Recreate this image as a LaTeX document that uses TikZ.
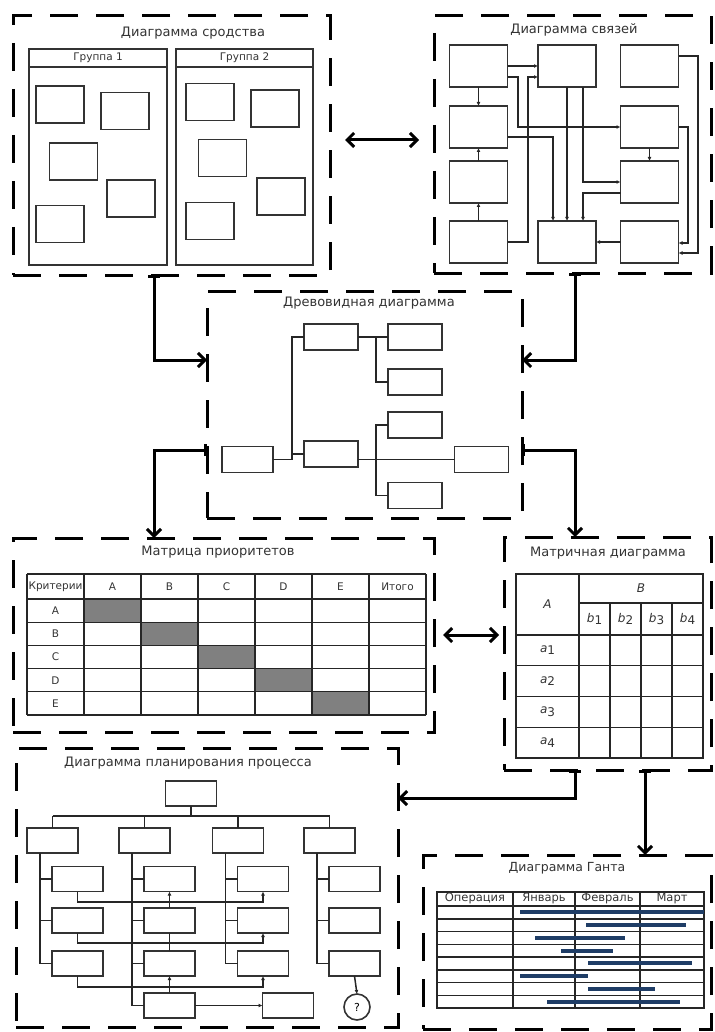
\documentclass[tikz,border=0pt]{standalone}
\usepackage{fontspec}
\setmainfont{DejaVu Sans}
\usetikzlibrary{arrows.meta}

\definecolor{ganttbar}{HTML}{1F3D66}

\tikzset{
  frame/.style={draw, line width=3pt, dash pattern=on 28pt off 18pt,
    inner sep=0pt, outer sep=0pt, anchor=north west},
  ttl/.style={font=\fontsize{13}{15}\selectfont, text=black!80},
  hdr/.style={font=\fontsize{10.5}{12}\selectfont, text=black!80},
  tab/.style={font=\fontsize{10.5}{12}\selectfont, text=black!80},
  mtx/.style={font=\fontsize{12}{14}\selectfont, text=black!80},
  blk/.style={draw=black!80, line width=1.6pt, inner sep=0pt, outer sep=0pt},
  grp/.style={draw=black!80, line width=1.6pt},
  sbox/.style={blk, minimum width=48pt, minimum height=37pt},
  rbox/.style={blk, minimum width=58pt, minimum height=42pt},
  tbox/.style={blk, minimum width=54pt, minimum height=26pt},
  pbox/.style={blk, minimum width=51pt, minimum height=25pt},
  qcirc/.style={blk, circle, minimum size=26pt, font=\fontsize{11}{12}\selectfont},
  ln/.style={line width=1.5pt, draw=black!85},
  ar/.style={ln, -{Latex[length=4pt, width=4pt]}},
  tg/.style={line width=1.2pt, draw=black!85},
  gl/.style={line width=1.5pt, draw=black!85},
  gbar/.style={line width=4pt, draw=ganttbar},
  big/.style={line width=3pt, -{Straight Barb[length=7pt, width=14pt]}},
  bigbar/.style={big, {Bar[width=12pt]}-{Straight Barb[length=7pt, width=14pt]}},
  bigdbl/.style={line width=3pt, {Straight Barb[length=7pt, width=14pt]}-{Straight Barb[length=7pt, width=14pt]}}
}

\begin{document}
\begin{tikzpicture}[x=1pt, y=-1pt]
  \useasboundingbox (0,0) rectangle (714,1032);

  % dashed frames
  \node[frame, minimum width=317pt, minimum height=259pt] (affin) at (13,16) {};
  \node[frame, minimum width=277pt, minimum height=257pt] (relat) at (434,16) {};
  \node[frame, minimum width=315pt, minimum height=227pt] (tree) at (207,291) {};
  \node[frame, minimum width=421pt, minimum height=194pt] (prio) at (13,538) {};
  \node[frame, minimum width=207pt, minimum height=233pt] (matr) at (504,537) {};
  \node[frame, minimum width=382pt, minimum height=279pt] (plan) at (16,748) {};
  \node[frame, minimum width=288pt, minimum height=174pt] (gantt) at (423,855) {};

  \node[ttl] (affinT) at (193,33) {Диаграмма сродства};
  \node[ttl] (relatT) at (574,30) {Диаграмма связей};
  \node[ttl] (treeT) at (369,303) {Древовидная диаграмма};
  \node[ttl] (prioT) at (218,552) {Матрица приоритетов};
  \node[ttl] (matrT) at (608,553) {Матричная диаграмма};
  \node[ttl] (planT) at (188,763) {Диаграмма планирования процесса};
  \node[ttl, font=\fontsize{12.5}{14}\selectfont] (ganttT) at (567,868) {Диаграмма Ганта};

  % affinity diagram
  \node[blk, minimum width=138pt, minimum height=216pt] (grp1) at (98,157) {};
  \node[blk, minimum width=137pt, minimum height=216pt] (grp2) at (244.5,157) {};
  \draw[grp] (grp1.west |- 0,67) -- (grp1.east |- 0,67);
  \draw[grp] (grp2.west |- 0,67) -- (grp2.east |- 0,67);
  \node[hdr] (grp1T) at (98,58) {Группа 1};
  \node[hdr] (grp2T) at (244.5,58) {Группа 2};
  \foreach \x/\y [count=\i] in {60/104.5,125/111,73.5/161.5,131/198.5,60/224,
      210/102,275/108.5,222.5/158,281/196.5,210/221}
    \node[sbox] (s\i) at (\x,\y) {};

  % relations diagram
  \node[rbox] (r11) at (478.5,66) {};
  \node[rbox] (r12) at (478.5,127) {};
  \node[rbox] (r13) at (478.5,182) {};
  \node[rbox] (r14) at (478.5,242) {};
  \node[rbox] (r21) at (567,66) {};
  \node[rbox] (r24) at (567,242) {};
  \node[rbox] (r31) at (649.5,66) {};
  \node[rbox] (r32) at (649.5,127) {};
  \node[rbox] (r33) at (649.5,182) {};
  \node[rbox] (r34) at (649.5,242) {};
  \draw[ar] (r11) -- (r12);
  \draw[ar] (r13) -- (r12);
  \draw[ar] (r14) -- (r13);
  \draw[ar] (r11) -- (r21);
  \draw[ar] (r11.east |- 0,77) -| (518,127) -- (r32);
  \draw[ar] (r14) -| (528,77) -- (r21.west |- 0,77);
  \draw[ar] (r12.east |- 0,137) -| (r24.north -| 553,0);
  \draw[ar] (r21) -- (r24);
  \draw[ar] (r21.south -| 583,0) |- (r33);
  \draw[ar] (r33.west |- 0,193) -| (r24.north -| 583,0);
  \draw[ar] (r32) -- (r33);
  \draw[ar] (r34) -- (r24);
  \draw[ar] (r32) -| (688,243) -- (r34.east |- 0,243);
  \draw[ar] (r31.east |- 0,56) -| (698,253) -- (r34.east |- 0,253);

  % tree diagram
  \node[tbox, minimum width=51pt] (t0) at (247.5,459.5) {};
  \node[tbox] (m1) at (331,337) {};
  \node[tbox] (m2) at (331,454) {};
  \node[tbox] (l1) at (415,337) {};
  \node[tbox] (l2) at (415,382) {};
  \node[tbox] (l3) at (415,425) {};
  \node[tbox] (l4) at (481.5,459.5) {};
  \node[tbox] (l5) at (415,495.5) {};
  \draw[ln] (t0.east) -| ([xshift=-12pt]m1.west) -- (m1.west);
  \draw[ln] (m2.west) -- ++(-12,0);
  \draw[ln] (m1.east) -- (l1.west);
  \draw[ln] (l2.west) -- ++(-12,0) |- (l1.west);
  \draw[ln] (m2.east |- l4) -- (l4.west);
  \draw[ln] (l3.west) -- ++(-12,0) |- (l5.west);

  % priority matrix
  \foreach \i in {1,...,5}
    \fill[black!50] ({27+57*\i},{575.8+23.2*\i}) rectangle ++(57,23.2);
  \foreach \i in {0,...,7}
    \draw[tg] ({27+57*\i},574) -- ({27+57*\i},715);
  \foreach \y in {574,599,622.2,645.4,668.6,691.8,715}
    \draw[tg] (27,\y) -- (426,\y);
  \foreach \t [count=\i from 0] in {Критерии,A,B,C,D,E,Итого}
    \node[tab] (ph\i) at ({55.5+57*\i},586.5) {\t};
  \foreach \t [count=\j] in {A,B,C,D,E}
    \node[tab] (prw\j) at (55.5,{587.4+23.2*\j}) {\t};

  % matrix diagram
  \draw[tg] (516,574) rectangle (703,758);
  \draw[tg] (579,574) -- (579,758);
  \draw[tg] (579,603) -- (703,603);
  \foreach \x in {610,641,672} \draw[tg] (\x,603) -- (\x,758);
  \foreach \k in {0,...,3} \draw[tg] (516,{635+30.75*\k}) -- (703,{635+30.75*\k});
  \node[mtx] (mA) at (547.5,604.5) {\textit{A}};
  \node[mtx] (mB) at (641,588.5) {\textit{B}};
  \foreach \i in {1,...,4}
    \node[mtx] (mb\i) at ({563.5+31*\i},619) {\textit{b}\raisebox{-2.5pt}{\i}};
  \foreach \i in {1,...,4}
    \node[mtx] (ma\i) at (547.5,{619.5+30.75*\i}) {\textit{a}\raisebox{-2.5pt}{\i}};

  % process planning diagram
  \node[pbox] (p0) at (191,793.5) {};
  \foreach \q/\x in {qa/52.5,qb/144.5,qc/238,qd/329.5}
    \node[pbox] (\q) at (\x,840.5) {};
  \foreach \c/\x in {a/77.5,b/169.5,c/263,d/354.5}
    \foreach \y [count=\r] in {879,920.5,963.5}
      \node[pbox] (\c\r) at (\x,\y) {};
  \node[pbox] (pb) at (169.5,1005.5) {};
  \node[pbox] (pend) at (288,1005.5) {};
  \node[qcirc] (pq) at (357,1007) {?};
  \draw[ln] (p0.south) -- (p0.south |- 0,816);
  \draw[ln] (qa.north |- 0,816) -- (qd.north |- 0,816);
  \foreach \q in {qa,qb,qc,qd} \draw[ln] (\q.north |- 0,816) -- (\q.north);
  \foreach \q/\c in {qa/a,qc/c,qd/d} {
    \draw[ln] ([xshift=13pt]\q.south west) |- (\c3.west);
    \draw[ln] (\c1.west) -- ++(-12,0);
    \draw[ln] (\c2.west) -- ++(-12,0);
  }
  \draw[ln] ([xshift=13pt]qb.south west) |- (pb.west);
  \foreach \r in {1,2,3} \draw[ln] (b\r.west) -- ++(-12,0);
  \draw[ar] (a1.south) |- (c1.south |- 0,902) -- (c1.south);
  \draw[ar] (a2.south) |- (c2.south |- 0,943) -- (c2.south);
  \draw[ar] (a3.south) |- (c3.south |- 0,987) -- (c3.south);
  \draw[ar] (b2.north) -- (b1.south);
  \draw[ln] (b3.north) -- (b2.south);
  \draw[ar] (pb.north) -- (b3.south);
  \draw[ar] (pb.east) -- (pend.west);
  \draw[ar] (d3.south) -- (pq.north);

  % Gantt chart
  \draw[gl] (437,892) rectangle (704,1008);
  \foreach \x in {513,575,640} \draw[gl] (\x,892) -- (\x,1008);
  \foreach \k in {0,...,7} \draw[gl] (437,{906+12.75*\k}) -- (704,{906+12.75*\k});
  \foreach \t/\x [count=\i] in {Операция/475,Январь/544,Февраль/607.5,Март/672}
    \node[hdr, font=\fontsize{11.5}{12}\selectfont] (gh\i) at (\x,898.5) {\t};
  \foreach \a/\b [count=\i] in {520/704,586/686,535/625,561/613,588/692,520/588,588/655,547/680}
    \draw[gbar] (\a,{899.6+12.75*\i}) -- (\b,{899.6+12.75*\i});

  % links between diagrams
  \draw[bigdbl, shorten <=15pt, shorten >=15pt] (affin.east |- 0,140) -- (relat.west |- 0,140);
  \draw[bigbar] (affin.south -| 154,0) |- (tree.west |- 0,360);
  \draw[bigbar] (relat.south -| 575,0) |- (tree.east |- 0,360);
  \draw[bigbar] (tree.west |- 0,450) -| (prio.north -| 154,0);
  \draw[bigbar] (tree.east |- 0,450) -| (matr.north -| 575,0);
  \draw[bigdbl, shorten <=9pt, shorten >=5pt] (prio.east |- 0,635) -- (matr.west |- 0,635);
  \draw[bigbar] (matr.south -| 575,0) |- (plan.east |- 0,798);
  \draw[bigbar] (matr.south -| 645,0) -- (gantt.north -| 645,0);
\end{tikzpicture}
\end{document}
